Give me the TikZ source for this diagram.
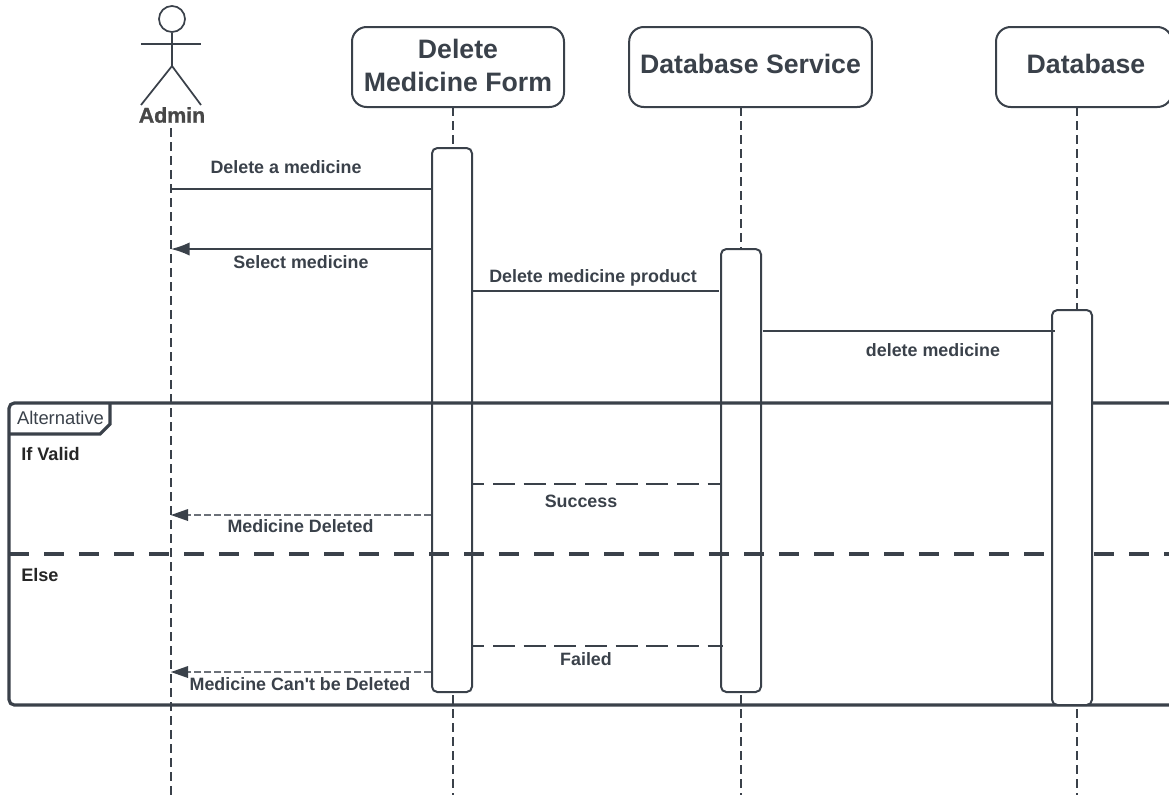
\documentclass[tikz,border=0pt]{standalone}
\usepackage{fontspec}
\setmainfont{Liberation Sans}
\newfontfamily\heavyfont[BoldFont={Liberation Sans Bold},BoldFeatures={FakeBold=1.2}]{Liberation Sans}
\usepackage{xcolor}
\usetikzlibrary{arrows.meta, positioning, calc, backgrounds}
\definecolor{inkdark}{HTML}{3A414A}
\definecolor{inkgrey}{HTML}{6B7078}
\tikzset{
    headbox/.style={draw=inkdark, line width=1.5pt, rounded corners=11pt, fill=white, minimum height=60pt, inner sep=0pt, align=center, text=inkdark, text depth=4.5pt, font=\fontsize{20}{24.5}\selectfont\bfseries},
    actbar/.style={draw=inkdark, line width=1.5pt, rounded corners=4pt, fill=white, minimum width=30pt, inner sep=0pt},
    lifeline/.style={draw=inkdark, line width=1.4pt, dash pattern=on 6.5pt off 4pt},
    msg/.style={draw=inkdark, line width=0.9pt},
    msgstrong/.style={draw=inkdark, line width=1.6pt},
    msgback/.style={draw=inkdark, line width=1.1pt, -{Latex[length=14pt,width=10pt]}},
    msgdash/.style={draw=inkdark, line width=1.3pt, dash pattern=on 16.5pt off 6.5pt, dash phase=8pt},
    msgreply/.style={draw=inkgrey, line width=1pt, dash pattern=on 5pt off 2.5pt},
    replytip/.style={draw=none, fill=inkdark},
    msglabel/.style={text=inkdark, inner sep=0pt, font=\fontsize{13.4}{15}\selectfont\bfseries},
    frameline/.style={draw=inkdark, line width=2.4pt},
    guard/.style={text=black!85, inner sep=0pt, anchor=west, font=\fontsize{13.6}{15}\selectfont\bfseries}
}
\begin{document}
\begin{tikzpicture}[x=0.75pt,y=-0.75pt]

  \useasboundingbox (0,0) rectangle (1169,794);

  % Actor figure
  \node[circle, draw=inkdark, line width=1.3pt, minimum size=19.5pt, inner sep=0pt] (head) at (172,19) {};
  \coordinate (hip) at (172,66);
  \coordinate (armL) at (141,44);
  \coordinate (armR) at (201,44);
  \coordinate (legL) at (141,105);
  \coordinate (legR) at (201,105);
  \draw[draw=inkdark, line width=1.3pt] (head.south) -- (hip);
  \draw[draw=inkdark, line width=1.3pt] (armL) -- (armR);
  \draw[draw=inkdark, line width=1.3pt] (legL) -- (hip) -- (legR);
  \node[text=black!72, inner sep=0pt, font=\fontsize{16}{18}\heavyfont\bfseries] (admin) at (172,115) {Admin};

  % Header boxes
  \node[headbox, minimum width=159pt, text depth=3pt] (form) at (458,67) {Delete\\Medicine Form};
  \node[headbox, minimum width=182pt] (service) at (750.5,67) {Database Service};
  \node[headbox, minimum width=132pt] (database) at (1084,67) {\hspace*{3pt}Database};

  % Lifeline ends
  \coordinate (adminTop) at (171,128);
  \coordinate (adminEnd) at (171,795);
  \coordinate (formTop) at (453,107);
  \coordinate (formEnd) at (453,795);
  \coordinate (serviceTop) at (741,107);
  \coordinate (serviceEnd) at (741,795);
  \coordinate (databaseTop) at (1077,107);
  \coordinate (databaseEnd) at (1077,795);

  \draw[lifeline] (adminTop) -- (adminEnd);
  \draw[lifeline] (formTop) -- (formEnd);
  \draw[lifeline] (serviceTop) -- (serviceEnd);
  \draw[lifeline] (databaseTop) -- (databaseEnd);

  % Activation bars on the first two lifelines
  \node[actbar, minimum height=408pt] (formbar) at (452,420) {};
  \node[actbar, minimum height=332.25pt] (servicebar) at (741,470.5) {};

  % Alternative frame
  \coordinate (frameNW) at (9,403);
  \coordinate (frameSE) at (1180,705);
  \draw[frameline, rounded corners=4pt] (1180,403) -- (frameNW) -- (9,705) -- (frameSE);
  \draw[frameline] (9,434) -- (100,434) -- (110,424) -- (110,403);
  \node[text=inkdark, inner sep=0pt, font=\fontsize{13.8}{15}\selectfont] (alt) at (60.5,418) {Alternative};
  \coordinate (splitL) at (9,554);
  \coordinate (splitR) at (1169,554);
  \draw[draw=inkdark, line width=2.4pt, dash pattern=on 15pt off 11.25pt] (splitL) -- (splitR);
  \node[guard] (valid) at (21,454) {If Valid};
  \node[guard] (else) at (21,575) {Else};

  % Third bar sits over the frame
  \node[actbar, minimum height=296.25pt] (databasebar) at (1072,507.5) {};

  % Request messages
  \coordinate (m1) at (171,189);
  \coordinate (m2) at (171,249);
  \coordinate (m3) at (719,291);
  \coordinate (m4) at (1055,331);
  \draw[msgstrong] (m1) -- (formbar.west |- m1);
  \draw[msgback] (formbar.west |- m2) -- (m2);
  \draw[msg] (formbar.east |- m3) -- (m3);
  \draw[msg] ($(servicebar.east |- m4)+(1,0)$) -- (m4);

  \node[msglabel] (lab1) at (286,167.5) {Delete a medicine};
  \node[msglabel] (lab2) at (301,262) {Select medicine};
  \node[msglabel] (lab3) at (593,278) {Delete medicine product};
  \node[msglabel] (lab4) at (933,350.5) {delete medicine};

  % Replies inside the frame
  \coordinate (r1) at (721,484);
  \coordinate (r2) at (171,515);
  \coordinate (r3) at (723,646);
  \coordinate (r4) at (171,672);
  \draw[msgdash] (formbar.east |- r1) -- (r1);
  \draw[msgreply] (formbar.west |- r2) -- (r2);
  \draw[msgdash] (formbar.east |- r3) -- (r3);
  \draw[msgreply] (formbar.west |- r4) -- (r4);
  \fill[replytip] (r2) -- ++(17,-6) -- ++(0,12) -- cycle;
  \fill[replytip] (r4) -- ++(17,-6) -- ++(0,12) -- cycle;

  \node[msglabel] (lab5) at (581,501) {Success};
  \node[msglabel] (lab6) at (300.5,526.5) {Medicine Deleted};
  \node[msglabel] (lab7) at (586,659) {Failed};
  \node[msglabel] (lab8) at (300,684) {Medicine Can\textquotesingle t be Deleted};

\end{tikzpicture}
\end{document}
